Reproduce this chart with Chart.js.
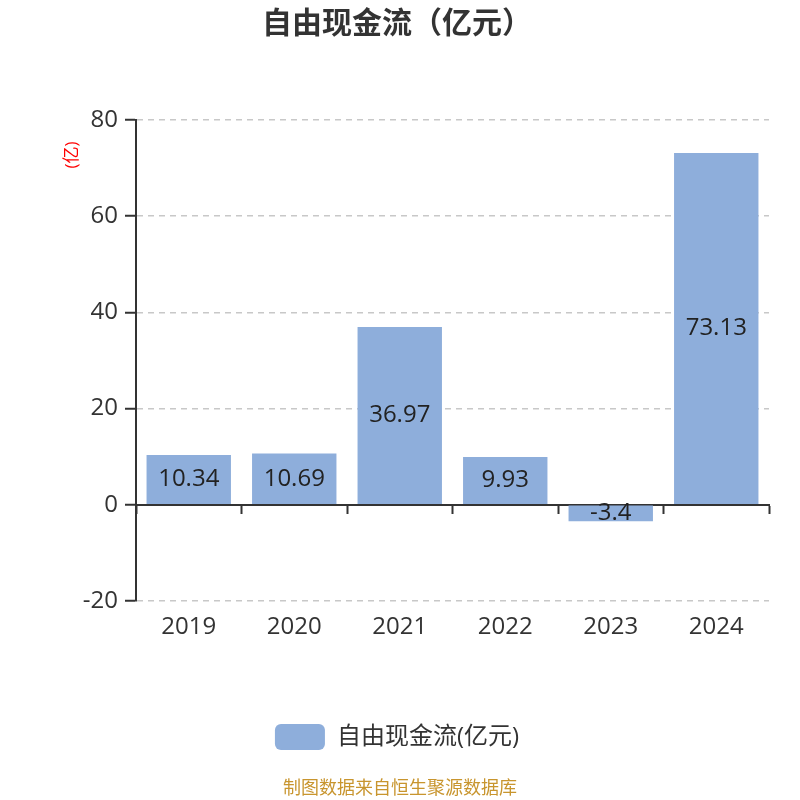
<!DOCTYPE html>
<html>
<head>
<meta charset="utf-8">
<script src="https://cdn.jsdelivr.net/npm/chart.js@4.4.1/dist/chart.umd.min.js"></script>
<style>
html,body{margin:0;padding:0;background:#fff;}
#wrap{width:800px;height:800px;position:relative;}
</style>
</head>
<body>
<div id="wrap"><canvas id="c" width="800" height="800"></canvas></div>
<script>
const categories = ['2019', '2020', '2021', '2022', '2023', '2024'];
const values = [10.34, 10.69, 36.97, 9.93, -3.4, 73.13];
const seriesName = '自由现金流(亿元)';
const titleText = '自由现金流（亿元）';
const unitText = '(亿)';
const footerText = '制图数据来自恒生聚源数据库';
const yMin = -20, yMax = 80, yStep = 20;

const FONT = '"Open Sans", "Noto Sans CJK SC", sans-serif';
const barColor = '#8eaedb';

const valueLabels = {
  id: 'valueLabels',
  afterDatasetsDraw(chart) {
    const ctx = chart.ctx;
    const meta = chart.getDatasetMeta(0);
    ctx.save();
    ctx.font = '24px ' + FONT;
    ctx.fillStyle = '#222';
    ctx.textAlign = 'center';
    ctx.textBaseline = 'middle';
    meta.data.forEach((bar, i) => {
      const v = chart.data.datasets[0].data[i];
      const y = (bar.y + bar.base) / 2;
      ctx.fillText(String(v), bar.x, y);
    });
    ctx.restore();
  }
};

const extras = {
  id: 'extras',
  afterDraw(chart) {
    const ctx = chart.ctx;
    const a = chart.chartArea;
    ctx.save();
    ctx.translate(72, a.top + 35);
    ctx.rotate(-Math.PI / 2);
    ctx.font = '17px ' + FONT;
    ctx.fillStyle = '#ff0000';
    ctx.textAlign = 'center';
    ctx.textBaseline = 'middle';
    ctx.fillText(unitText, 0, 0);
    ctx.restore();
    ctx.save();
    ctx.font = '18px ' + FONT;
    ctx.fillStyle = '#c8952e';
    ctx.textAlign = 'center';
    ctx.textBaseline = 'middle';
    ctx.fillText(footerText, 400, 789);
    ctx.restore();
  }
};

new Chart(document.getElementById('c'), {
  type: 'bar',
  data: {
    labels: categories,
    datasets: [{
      label: seriesName,
      data: values,
      backgroundColor: barColor,
      borderWidth: 0,
      barPercentage: 0.8,
      categoryPercentage: 1.0
    }]
  },
  options: {
    responsive: false,
    animation: false,
    devicePixelRatio: 1,
    layout: { padding: { left: 25, right: 31, top: 0, bottom: 40 } },
    plugins: {
      title: {
        display: true,
        text: titleText,
        font: { family: FONT, size: 30, weight: 'bold' },
        color: '#333',
        padding: { top: 6, bottom: 78 }
      },
      legend: {
        position: 'bottom',
        labels: {
          boxWidth: 50,
          boxHeight: 26,
          useBorderRadius: true,
          borderRadius: 6,
          font: { family: FONT, size: 24 },
          color: '#333',
          padding: 10
        }
      },
      tooltip: { enabled: false }
    },
    scales: {
      x: {
        offset: true,
        grid: { display: false, drawTicks: false },
        border: { display: false },
        ticks: { font: { family: FONT, size: 24 }, color: '#333', padding: 12 },
        afterFit(s) { s.height = 113; }
      },
      xz: {
        type: 'category',
        labels: categories,
        position: { y: 0 },
        offset: true,
        grid: { display: true, offset: true, drawOnChartArea: false, drawTicks: true, tickLength: 8, tickColor: '#333', tickWidth: 2 },
        border: { display: true, color: '#333', width: 2 },
        ticks: { display: false }
      },
      y: {
        min: yMin,
        max: yMax,
        ticks: { stepSize: yStep, font: { family: FONT, size: 24 }, color: '#333', padding: 7 },
        grid: { color: '#c8c8c8', lineWidth: 1.5, tickLength: 11, tickColor: '#333', tickWidth: 2 },
        border: { display: true, color: '#333', width: 2, dash: [6, 5] },
        afterFit(s) { s.width = 111; }
      }
    }
  },
  plugins: [valueLabels, extras]
});
</script>
</body>
</html>
